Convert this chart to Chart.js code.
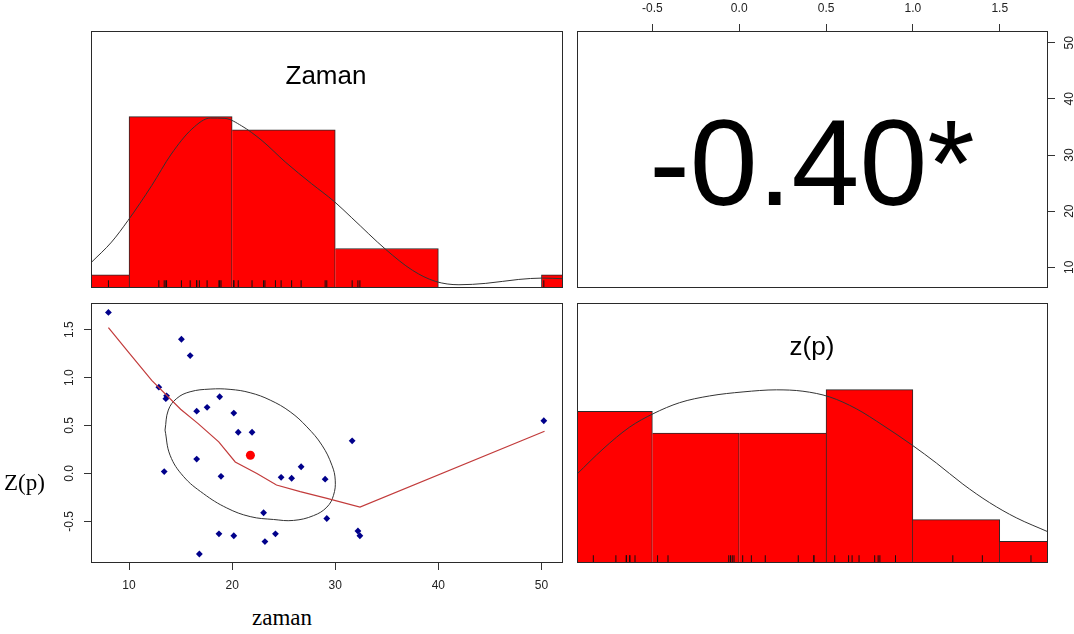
<!DOCTYPE html>
<html><head><meta charset="utf-8">
<script src="https://cdn.jsdelivr.net/npm/chart.js@4/dist/chart.umd.min.js"></script>
<style>
html,body{margin:0;padding:0;background:#fff;overflow:hidden;width:1074px;height:634px;position:relative;}
canvas{position:absolute;display:block;}
.t{position:absolute;white-space:nowrap;color:#000;}
.sans{font-family:'Liberation Sans',Arial,sans-serif;line-height:1;}
.serif{font-family:'Liberation Serif','Times New Roman',serif;line-height:1;}
</style></head><body>
<canvas id="cA" width="472" height="257" style="left:91px;top:31px;width:472px;height:257px"></canvas>
<canvas id="cB" width="507" height="288" style="left:577px;top:0px;width:507px;height:288px"></canvas>
<canvas id="cC" width="575" height="305" style="left:0px;top:295px;width:575px;height:305px"></canvas>
<canvas id="cD" width="471" height="260" style="left:577px;top:303px;width:471px;height:260px"></canvas>
<div class="t sans" id="tZaman" style="left:126px;top:62px;width:400px;text-align:center;font-size:26px;"></div>
<div class="t sans" id="tCorr" style="left:512px;top:102px;width:600px;text-align:center;font-size:122px;"></div>
<div class="t sans" id="tZp" style="left:612px;top:333px;width:400px;text-align:center;font-size:26px;"></div>
<div class="t serif" id="tYlab" style="left:4px;top:471px;font-size:23px;"></div>
<div class="t serif" id="tXlab" style="left:252px;top:606px;font-size:23px;"></div>
<script>
// ---------- data ----------
const zaman = [8.0, 15.08, 15.93, 12.89, 13.64, 13.57, 18.79, 16.56, 17.57, 20.16, 20.59, 21.93, 31.64, 50.23, 16.56,
               13.41, 18.92, 26.69, 24.75, 25.77, 29.02, 23.05, 29.18, 18.72, 20.16, 23.18, 24.20, 16.82, 32.20, 32.39];
const zp    = [1.68, 1.40, 1.23, 0.90, 0.81, 0.78, 0.80, 0.65, 0.69, 0.63, 0.43, 0.43, 0.34, 0.55, 0.15,
               0.02, -0.03, 0.07, -0.04, -0.05, -0.06, -0.41, -0.47, -0.63, -0.65, -0.71, -0.63, -0.84, -0.60, -0.65];

const zamanBins   = [0, 10, 20, 30, 40, 50, 60];
const zamanCounts = [1, 13, 12, 3, 0, 1];
const zpBins      = [-1, -0.5, 0, 0.5, 1, 1.5, 2];
const zpCounts    = [7, 6, 6, 8, 2, 1];

const zamanDensX = [6.3, 8.3, 9.9, 12.2, 14.1, 16.1, 17.9, 19.3, 20.9, 22.9, 25.2, 27.7, 29.9, 31.6, 34.9, 37.5, 39.7, 42.0, 44.6, 47.8, 50.1, 52.1];
const zamanDensY = [0.147, 0.268, 0.394, 0.598, 0.782, 0.928, 0.992, 0.99, 0.947, 0.86, 0.733, 0.609, 0.505, 0.41, 0.225, 0.103, 0.039, 0.019, 0.027, 0.05, 0.058, 0.054];
const zpDensX = [-0.934, -0.784, -0.631, -0.496, -0.343, -0.170, 0.022, 0.214, 0.367, 0.521, 0.674, 0.828, 1.0, 1.135, 1.288, 1.442, 1.595, 1.778];
const zpDensY = [0.513, 0.658, 0.784, 0.861, 0.925, 0.964, 0.987, 0.999, 0.991, 0.958, 0.89, 0.794, 0.677, 0.577, 0.455, 0.348, 0.261, 0.18];

const loessX = [8.0, 9.9, 12.2, 15.0, 16.7, 18.7, 20.3, 22.4, 24.3, 26.6, 29.2, 32.4, 50.3];
const loessY = [1.52, 1.27, 0.97, 0.67, 0.52, 0.33, 0.12, 0.0, -0.12, -0.19, -0.26, -0.35, 0.44];

const ellipseX = [13.49, 13.81, 14.63, 15.92, 17.86, 19.8, 21.75, 23.69, 25.63, 27.25, 28.71, 29.68, 30.0, 29.83, 29.19, 27.89, 25.95, 24.01, 21.75, 19.48, 17.21, 15.27, 13.98, 13.49];
const ellipseY = [0.452, 0.661, 0.783, 0.852, 0.88, 0.877, 0.842, 0.765, 0.643, 0.486, 0.295, 0.085, -0.07, -0.228, -0.351, -0.44, -0.49, -0.48, -0.45, -0.36, -0.21, -0.03, 0.19, 0.452];

const meanPoint = [21.77, 0.19];

const zamanTicks = [10, 20, 30, 40, 50];
const zamanTickLabels = ['10', '20', '30', '40', '50'];
const zpTicks = [-0.5, 0, 0.5, 1.0, 1.5];
const zpTickLabels = ['-0.5', '0.0', '0.5', '1.0', '1.5'];

const corrLabel = '-0.40*';
const titleZaman = 'Zaman';
const titleZp = 'z(p)';
const axisLabelY = 'Z(p)';
const axisLabelX = 'zaman';

// ---------- texts ----------
document.getElementById('tZaman').textContent = titleZaman;
document.getElementById('tCorr').textContent = corrLabel;
document.getElementById('tZp').textContent = titleZp;
document.getElementById('tYlab').textContent = axisLabelY;
document.getElementById('tXlab').textContent = axisLabelX;

// ---------- helpers ----------
const FONT = "'Liberation Sans', Arial, sans-serif";
Chart.defaults.font.family = FONT;
Chart.defaults.font.size = 12;
Chart.defaults.color = '#222';
Chart.defaults.animation = false;

const ZAMAN_RANGE = [6.31, 52.09];
const ZP_RANGE = [-0.934, 1.778];

const frame = {
  id: 'frame',
  afterDatasetsDraw(chart) {
    const { ctx, chartArea: a } = chart;
    ctx.save();
    ctx.strokeStyle = '#2a2a2a';
    ctx.lineWidth = 1;
    ctx.strokeRect(Math.round(a.left) + 0.5, Math.round(a.top) + 0.5,
                   Math.round(a.right - a.left) - 1, Math.round(a.bottom - a.top) - 1);
    ctx.restore();
  }
};

// rotated (bottom-to-top) tick labels for vertical axes, R style
function rotatedLabels(scaleId, values, labels, centerX) {
  return {
    id: 'rot_' + scaleId,
    afterDraw(chart) {
      const s = chart.scales[scaleId], ctx = chart.ctx;
      ctx.save();
      ctx.font = '12px ' + FONT;
      ctx.fillStyle = '#222';
      ctx.textAlign = 'center';
      ctx.textBaseline = 'middle';
      values.forEach((v, i) => {
        const y = s.getPixelForValue(v);
        ctx.save();
        ctx.translate(centerX, y);
        ctx.rotate(-Math.PI / 2);
        ctx.fillText(labels[i], 0, 0);
        ctx.restore();
      });
      ctx.restore();
    }
  };
}

function zip(xs, ys) { return xs.map((x, i) => ({ x: x, y: ys[i] })); }

function histBorder(counts) {
  return (c) => {
    const i = c.dataIndex, v = counts[i];
    const prev = i > 0 ? counts[i - 1] : -1;
    const next = i < counts.length - 1 ? counts[i + 1] : -1;
    return { top: v > 0 ? 1 : 0, left: prev < v ? 1 : 0, right: next <= v ? 1 : 0, bottom: 0 };
  };
}

function histPanel(canvasId, values, bins, counts, densX, densY, range) {
  const maxC = Math.max(...counts);
  const bars = counts.map((c, i) => ({ x: (bins[i] + bins[i + 1]) / 2, y: c / maxC }));
  new Chart(document.getElementById(canvasId), {
    type: 'scatter',
    data: {
      datasets: [
        { type: 'scatter', data: values.map(v => ({ x: v, y: 0.0225 })), pointStyle: 'line', rotation: 90,
          radius: 3.85, borderColor: '#111', borderWidth: 1, backgroundColor: '#111', clip: 0 },
        { type: 'line', data: zip(densX, densY), borderColor: '#333', borderWidth: 1, pointRadius: 0,
          cubicInterpolationMode: 'monotone', fill: false, clip: 0 },
        { type: 'bar', data: bars, backgroundColor: '#FF0000', borderColor: '#2a2a2a',
          borderWidth: histBorder(counts), borderSkipped: 'start', barThickness: 'flex',
          barPercentage: 1, categoryPercentage: 1, clip: 0 }
      ]
    },
    options: {
      responsive: false,
      layout: { padding: 0, autoPadding: false },
      plugins: { legend: { display: false }, tooltip: { enabled: false } },
      scales: {
        x: { type: 'linear', display: false, min: range[0], max: range[1], offset: false,
             afterBuildTicks: s => { s.ticks = bins.map(v => ({ value: v })); } },
        y: { type: 'linear', display: false, min: 0, max: 1.5 }
      }
    },
    plugins: [frame]
  });
}

// ---------- panel A: histogram of zaman ----------
histPanel('cA', zaman, zamanBins, zamanCounts, zamanDensX, zamanDensY, ZAMAN_RANGE);

// ---------- panel D: histogram of z(p) ----------
histPanel('cD', zp, zpBins, zpCounts, zpDensX, zpDensY, ZP_RANGE);

const gridOpts = { display: true, drawOnChartArea: false, drawTicks: true, tickLength: 7, color: '#333', tickColor: '#333' };

// ---------- panel B: correlation panel with top / right axes ----------
new Chart(document.getElementById('cB'), {
  type: 'scatter',
  data: { datasets: [] },
  options: {
    responsive: false,
    layout: { padding: 0, autoPadding: false },
    plugins: { legend: { display: false }, tooltip: { enabled: false } },
    scales: {
      x: {
        type: 'linear', position: 'top', min: ZP_RANGE[0], max: ZP_RANGE[1],
        afterBuildTicks: s => { s.ticks = zpTicks.map(v => ({ value: v })); },
        afterFit: s => { s.height = 31; },
        ticks: { autoSkip: false, maxRotation: 0, padding: 8.5, color: '#222', callback: (v, i) => zpTickLabels[i] },
        grid: gridOpts, border: { display: false }
      },
      y: {
        type: 'linear', position: 'right', min: ZAMAN_RANGE[0], max: ZAMAN_RANGE[1],
        afterBuildTicks: s => { s.ticks = zamanTicks.map(v => ({ value: v })); },
        afterFit: s => { s.width = 36; },
        ticks: { display: false },
        grid: gridOpts, border: { display: false }
      }
    }
  },
  plugins: [frame, rotatedLabels('y', zamanTicks, zamanTickLabels, 493)]
});

// ---------- panel C: scatter ----------
new Chart(document.getElementById('cC'), {
  type: 'scatter',
  data: {
    datasets: [
      { data: [{ x: meanPoint[0], y: meanPoint[1] }], pointStyle: 'circle', radius: 4.5,
        backgroundColor: '#FF0000', borderColor: '#FF0000', borderWidth: 0 },
      { type: 'line', data: zip(loessX, loessY), borderColor: '#C23B3B', borderWidth: 1.2, pointRadius: 0,
        tension: 0, fill: false },
      { type: 'line', data: zip(ellipseX, ellipseY), borderColor: '#333', borderWidth: 1, pointRadius: 0,
        tension: 0.4, fill: false },
      { data: zip(zaman, zp), pointStyle: 'rectRot', radius: 3.4, backgroundColor: '#00008B', borderColor: '#00008B', borderWidth: 0 }
    ]
  },
  options: {
    responsive: false,
    layout: { padding: { left: 0, top: 8, right: 12, bottom: 0 }, autoPadding: false },
    plugins: { legend: { display: false }, tooltip: { enabled: false } },
    scales: {
      x: {
        type: 'linear', position: 'bottom', min: ZAMAN_RANGE[0], max: ZAMAN_RANGE[1],
        afterBuildTicks: s => { s.ticks = zamanTicks.map(v => ({ value: v })); },
        afterFit: s => { s.height = 37; },
        ticks: { autoSkip: false, maxRotation: 0, padding: 8.8, color: '#222', callback: (v, i) => zamanTickLabels[i] },
        grid: gridOpts, border: { display: false }
      },
      y: {
        type: 'linear', position: 'left', min: ZP_RANGE[0], max: ZP_RANGE[1],
        afterBuildTicks: s => { s.ticks = zpTicks.map(v => ({ value: v })); },
        afterFit: s => { s.width = 91; },
        ticks: { display: false },
        grid: gridOpts, border: { display: false }
      }
    }
  },
  plugins: [frame, rotatedLabels('y', zpTicks, zpTickLabels, 70)]
});
</script>
</body></html>
